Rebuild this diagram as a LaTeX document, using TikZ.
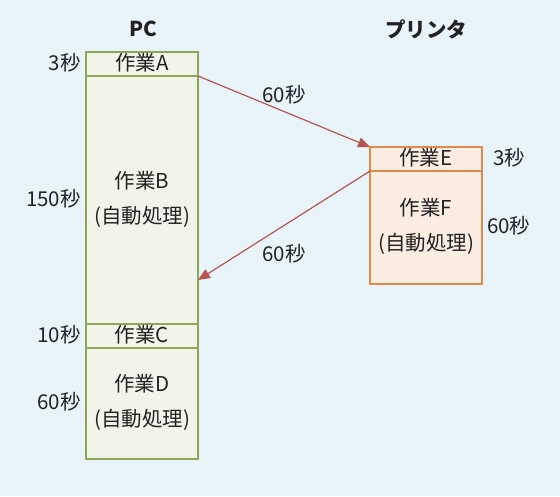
\documentclass[tikz,border=0pt]{standalone}
\usepackage{fontspec}
\setmainfont{Noto Sans CJK JP}
\usetikzlibrary{arrows.meta}
\definecolor{bg}{HTML}{E8F4FA}
\definecolor{pcfill}{HTML}{F1F5E9}
\definecolor{pcline}{HTML}{8FA65A}
\definecolor{prfill}{HTML}{FBEDE1}
\definecolor{prline}{HTML}{E38A4A}
\definecolor{arr}{HTML}{B85450}
\definecolor{txt}{HTML}{222222}
\tikzset{
  pcbox/.style={draw=pcline, fill=pcfill, line width=1.3pt},
  prbox/.style={draw=prline, fill=prfill, line width=1.3pt},
  lbl/.style={font=\fontsize{20.5}{35}\selectfont, text=txt, inner sep=0pt, align=center},
  ttl/.style={font=\fontsize{20.5}{22}\selectfont\bfseries, text=txt, inner sep=0pt},
  conn/.style={draw=arr, line width=1.2pt, -{Triangle[length=12pt,width=10pt]}}
}
\begin{document}
\begin{tikzpicture}[x=1pt,y=-1pt]
\fill[bg] (0,0) rectangle (560,496);
\useasboundingbox (0,0) rectangle (560,496);
% titles
\node[ttl] (pc) at (143,29) {PC};
\node[ttl] (pr) at (426,29) {プリンタ};
% PC boxes
\draw[pcbox] (86,52) rectangle (198,76);
\draw[pcbox] (86,76) rectangle (198,324);
\draw[pcbox] (86,324) rectangle (198,348);
\draw[pcbox] (86,348) rectangle (198,459);
\node[lbl] (A) at (142,63) {作業A};
\node[lbl] (B) at (142,199) {作業B\\(自動処理)};
\node[lbl] (C) at (142,335) {作業C};
\node[lbl] (D) at (142,402) {作業D\\(自動処理)};
% printer boxes
\draw[prbox] (370,147) rectangle (482,171);
\draw[prbox] (370,171) rectangle (482,284);
\node[lbl] (E) at (426,158) {作業E};
\node[lbl] (F) at (426,226) {作業F\\(自動処理)};
% time labels
\node[lbl, anchor=east] (tA) at (81,63) {3秒};
\node[lbl, anchor=east] (tB) at (81,199) {150秒};
\node[lbl, anchor=east] (tC) at (81,335) {10秒};
\node[lbl, anchor=east] (tD) at (81,402) {60秒};
\node[lbl, anchor=west] (tE) at (493,158) {3秒};
\node[lbl, anchor=west] (tF) at (487,226) {60秒};
% connectors
\coordinate (s1) at (198,76);
\coordinate (e1) at (370,147);
\coordinate (s2) at (370,171);
\coordinate (e2) at (198,280);
\draw[conn] (s1) -- (e1);
\draw[conn] (s2) -- (e2);
\node[lbl] (l1) at (284,95) {60秒};
\node[lbl] (l2) at (284,254) {60秒};
\end{tikzpicture}
\end{document}
